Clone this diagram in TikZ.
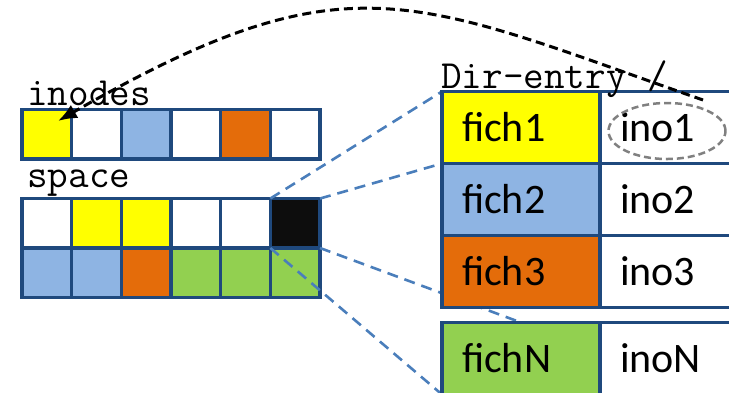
\documentclass[tikz,border=0pt]{standalone}
\usepackage{fontspec}
\setmainfont{Carlito}
\usetikzlibrary{arrows.meta,shapes.geometric}
\definecolor{edge}{RGB}{31,73,125}
\definecolor{cyel}{RGB}{255,255,0}
\definecolor{cblu}{RGB}{142,180,227}
\definecolor{corg}{RGB}{228,108,10}
\definecolor{cgrn}{RGB}{146,208,80}
\definecolor{cblk}{RGB}{13,13,13}
\definecolor{linkblue}{RGB}{74,126,187}
\definecolor{ring}{RGB}{128,128,128}
\begin{document}
\begin{tikzpicture}[x=1pt,y=-1pt,
  blockcell/.style={draw=edge, line width=3.2pt, minimum width=49.67pt,
    minimum height=49.5pt, inner sep=0pt, outer sep=0pt, anchor=north west},
  entry/.style={draw=edge, line width=3.6pt, minimum height=72pt, inner ysep=0pt,
    outer sep=0pt, anchor=north west, font=\fontsize{42}{42}\selectfont, align=left},
  namecell/.style={entry, text width=118pt, inner xsep=20pt},
  inocell/.style={entry, text width=120pt, inner xsep=20pt},
  label/.style={font=\ttfamily\fontsize{40}{40}\selectfont, inner sep=0pt, anchor=base west},
  linkline/.style={draw=linkblue, line width=2.6pt, dash pattern=on 11pt off 7pt},
  pointer/.style={draw=black, line width=3pt, dash pattern=on 9pt off 5pt,
    -{Latex[length=19pt,width=15pt]}},
]
\useasboundingbox (0,0) rectangle (729,392);

% block bitmaps: inode area and data space
\foreach \c [count=\k] in {cyel,white,cblu,white,corg,white}
  \node[blockcell, fill=\c] (i\k) at ({22+(\k-1)*49.67},109.5) {};
\foreach \c [count=\k] in {white,cyel,cyel,white,white,cblk}
  \node[blockcell, fill=\c] (s\k) at ({22+(\k-1)*49.67},198.5) {};
\foreach \c [count=\k] in {cblu,cblu,corg,cgrn,cgrn,cgrn}
  \node[blockcell, fill=\c] (t\k) at ({22+(\k-1)*49.67},248) {};

% directory block contents
\coordinate (r1) at (442,91.5);
\coordinate (r2) at (442,163.5);
\coordinate (r3) at (442,235.5);
\coordinate (r4) at (442,322.5);
\path (r4) node[namecell, fill=cgrn] (fN) {fichN};

% zoom lines from the directory block into the entries
\draw[linkline] (s6.north west) -- (r1);
\draw[linkline] (s6.north east) -- (r2);
\draw[linkline] (s6.south east) -- (fN.north);
\draw[linkline] (s6.south west) -- (fN.south west);

\path (r1) node[namecell, fill=cyel] (f1) {fich1};
\path (r2) node[namecell, fill=cblu] (f2) {fich2};
\path (r3) node[namecell, fill=corg] (f3) {fich3};
\path (r4) node[namecell, fill=cgrn] (fN) {fichN};
\node[inocell, fill=white] (n1) at (f1.north east) {ino1};
\node[inocell, fill=white] (n2) at (f2.north east) {ino2};
\node[inocell, fill=white] (n3) at (f3.north east) {ino3};
\node[inocell, fill=white] (nN) at (fN.north east) {inoN};

\node[ellipse, draw=ring, line width=2.5pt, dash pattern=on 7pt off 4pt,
  minimum width=117pt, minimum height=56pt, inner sep=0pt] (loop) at (667,131) {};

% captions
\node[label] (inodes) at (27,105) {inodes};
\node[label] (space) at (27,187) {space};
\node[label] (dirent) at (441,88) {Dir-entry /};

% inode number points back to its inode
\coordinate (cstart) at (703,100);
\coordinate (tip) at (58,121);
\draw[pointer] (cstart) .. controls (411,-2) and (349,-46) .. (tip);
\end{tikzpicture}
\end{document}
